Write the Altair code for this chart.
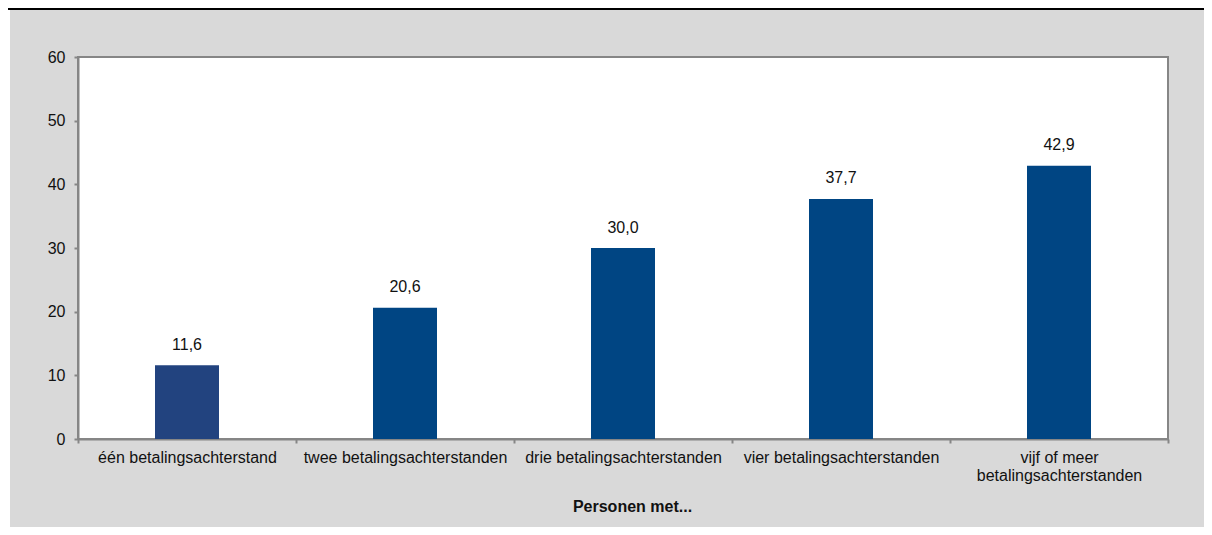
import altair as alt
import pandas as pd

categories = [
    "één betalingsachterstand",
    "twee betalingsachterstanden",
    "drie betalingsachterstanden",
    "vier betalingsachterstanden",
    "vijf of meer betalingsachterstanden",
]
values = [11.6, 20.6, 30.0, 37.7, 42.9]
y_ticks = [0, 10, 20, 30, 40, 50, 60]
x_title = "Personen met..."

df = pd.DataFrame({"category": categories, "value": values})

FONT = "Liberation Sans"
GRAY = "#868686"

W, H = 1090, 382

base = alt.Chart(df).encode(
    x=alt.X(
        "category:N",
        sort=categories,
        scale=alt.Scale(paddingInner=0, paddingOuter=0),
        axis=alt.Axis(
            title=x_title,
            tickBand="extent",
            tickSize=4,
            tickWidth=2,
            tickColor=GRAY,
            domainColor=GRAY,
            domainWidth=2,
            labelAngle=0,
            labelLimit=0,
            labelFont=FONT,
            labelFontSize=16,
            labelColor="#111111",
            labelPadding=6,
            labelLineHeight=18.5,
            labelExpr="datum.label == 'vijf of meer betalingsachterstanden' ? ['vijf of meer', 'betalingsachterstanden'] : datum.label",
            titleFont=FONT,
            titleFontSize=16,
            titleFontWeight="bold",
            titleColor="#111111",
            titleX=554,
            titleY=72,
            titleAlign="center",
            titleBaseline="alphabetic",
        ),
    ),
    y=alt.Y(
        "value:Q",
        scale=alt.Scale(domain=[0, 60]),
        axis=alt.Axis(
            title=None,
            values=y_ticks,
            grid=False,
            tickSize=4,
            tickWidth=2,
            tickColor=GRAY,
            domainColor=GRAY,
            domainWidth=2,
            labelFont=FONT,
            labelFontSize=16,
            labelColor="#111111",
            labelPadding=9,
        ),
    ),
)

bars = base.mark_bar(size=64).encode(
    color=alt.condition(
        alt.datum.category == categories[0],
        alt.value("#22437F"),
        alt.value("#004583"),
    )
)

labels = base.transform_calculate(
    lab="replace(format(datum.value, '.1f'), '.', ',')"
).mark_text(
    font=FONT, fontSize=16, color="#111111", baseline="alphabetic", dy=-15.5
).encode(text="lab:N")

top_line = alt.Chart(df).mark_rule(color="black", strokeWidth=2.5).encode(
    x=alt.value(-70), x2=alt.value(1126), y=alt.value(-48.3)
)
left_strip = alt.Chart(df).mark_rule(color="white", strokeWidth=2).encode(
    x=alt.value(-69), y=alt.value(-47), y2=alt.value(470)
)

chart = (
    alt.layer(top_line, left_strip, bars, labels)
    .properties(
        width=W,
        height=H,
        background="#D9D9D9",
        padding={"left": 70, "top": 49, "right": 36, "bottom": 88},
        autosize=alt.AutoSizeParams(type="none"),
    )
    .configure_view(fill="white", stroke=GRAY, strokeWidth=2)
)

chart.save("out.html", embed_options={"renderer": "svg", "actions": False})
